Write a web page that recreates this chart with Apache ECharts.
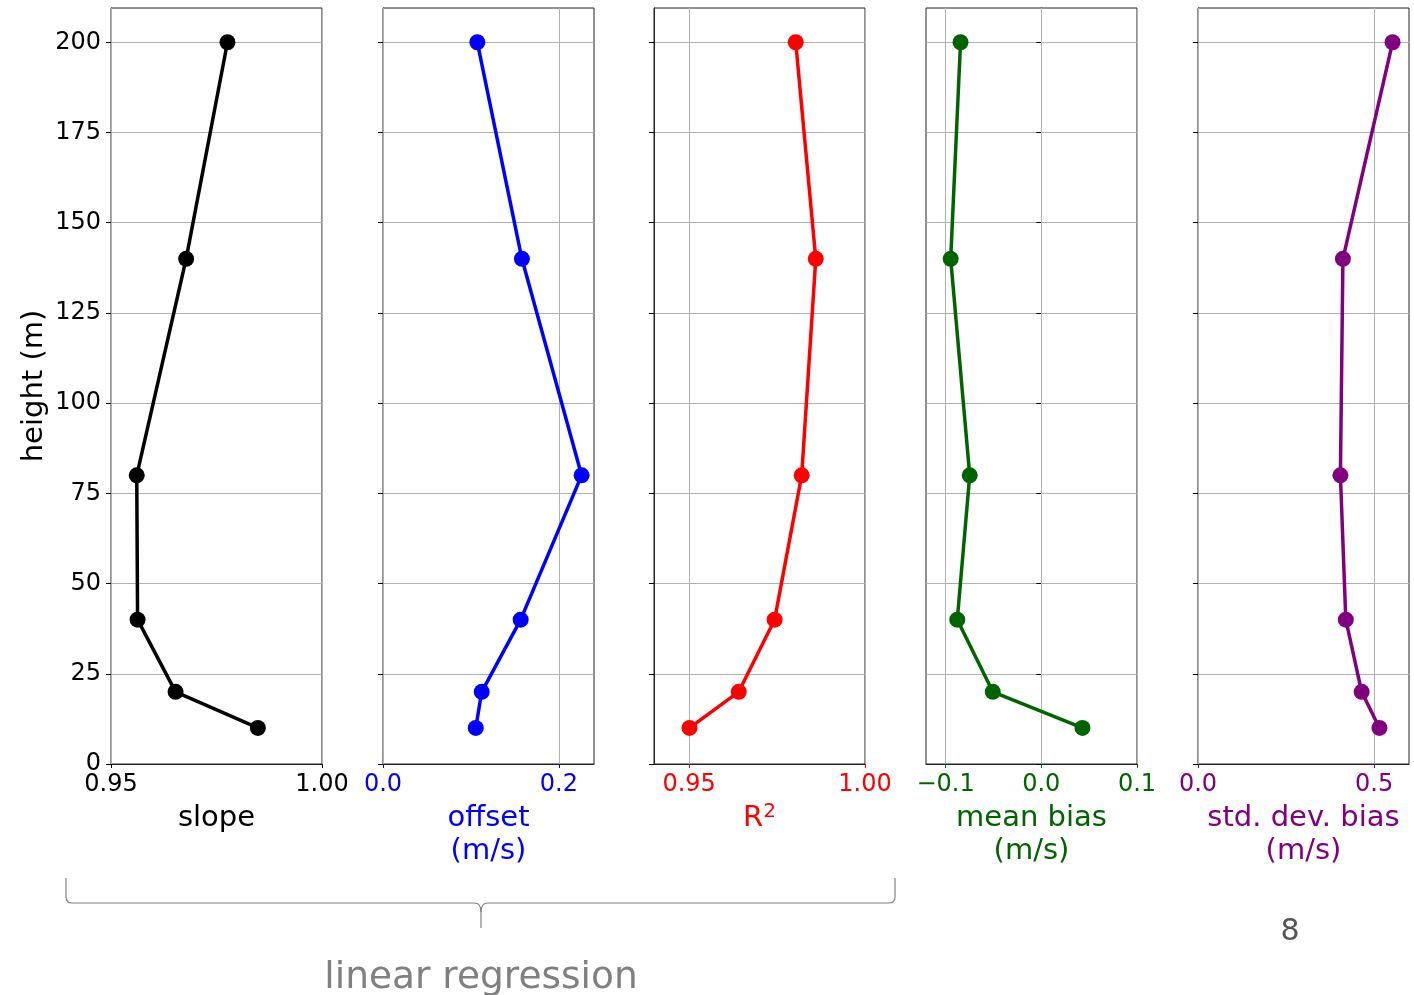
<!DOCTYPE html>
<html>
<head>
<meta charset="utf-8">
<title>Linear regression and bias profiles</title>
<script src="https://cdn.jsdelivr.net/npm/echarts@6/dist/echarts.min.js"></script>
<style>
  html, body { margin: 0; padding: 0; background: #fff; }
  #chart { width: 1414px; height: 995px; }
</style>
</head>
<body>
<div id="chart"></div>
<script>
// Measurement heights (m)
const heights = [10, 20, 40, 80, 140, 200];

// Profile values per height
const slope = [0.9848, 0.9653, 0.9563, 0.9561, 0.9678, 0.9776];
const offset = [0.1055, 0.1123, 0.1566, 0.2259, 0.1580, 0.1073];
const rSquared = [0.9501, 0.9641, 0.9743, 0.9820, 0.9860, 0.9803];
const meanBias = [0.0430, -0.0507, -0.0878, -0.0748, -0.0947, -0.0844];
const stdDevBias = [0.5150, 0.4646, 0.4196, 0.4043, 0.4114, 0.5524];

// Height axis ticks
const heightTicks = [0, 25, 50, 75, 100, 125, 150, 175, 200];

// Per-panel x ticks and their labels
const slopeTicks = [0.95, 1.00];
const slopeTickLabels = ['0.95', '1.00'];
const offsetTicks = [0.0, 0.2];
const offsetTickLabels = ['0.0', '0.2'];
const r2Ticks = [0.95, 1.00];
const r2TickLabels = ['0.95', '1.00'];
const meanBiasTicks = [-0.1, 0.0, 0.1];
const meanBiasTickLabels = ['\u22120.1', '0.0', '0.1'];
const stdTicks = [0.0, 0.5];
const stdTickLabels = ['0.0', '0.5'];

const FONT = 'DejaVu Sans';

const panels = [
  { values: slope, ticks: slopeTicks, labels: slopeTickLabels, min: 0.95, max: 1.00,
    name: 'slope', color: '#000000', left: 111 },
  { values: offset, ticks: offsetTicks, labels: offsetTickLabels, min: 0.0, max: 0.24,
    name: 'offset\n(m/s)', color: '#0000ff', left: 383 },
  { values: rSquared, ticks: r2Ticks, labels: r2TickLabels, min: 0.94, max: 1.00,
    name: '{b|R}{sup|2}', color: '#ff0000', left: 654 },
  { values: meanBias, ticks: meanBiasTicks, labels: meanBiasTickLabels, min: -0.1205, max: 0.1,
    name: 'mean bias\n(m/s)', color: '#006400', left: 926 },
  { values: stdDevBias, ticks: stdTicks, labels: stdTickLabels, min: 0.0, max: 0.599,
    name: 'std. dev. bias\n(m/s)', color: '#800080', left: 1198 }
];

const PANEL_W = 211;
const TOP = 8;
const BOTTOM_Y = 764;
const Y_MAX = 209.5;

const grids = [], xAxes = [], yAxes = [], series = [];

panels.forEach((p, i) => {
  grids.push({
    left: p.left, top: TOP, width: PANEL_W, height: BOTTOM_Y - TOP,
    show: true, borderColor: '#222', borderWidth: 1, backgroundColor: 'transparent'
  });

  xAxes.push({
    type: 'value', gridIndex: i, min: p.min, max: p.max,
    name: p.name, nameLocation: 'middle', nameGap: 37,
    nameTextStyle: {
      color: p.color, fontFamily: FONT, fontSize: 29, lineHeight: 33,
      rich: {
        b: { color: p.color, fontFamily: FONT, fontSize: 29, lineHeight: 33 },
        sup: { color: p.color, fontFamily: FONT, fontSize: 20, lineHeight: 14, verticalAlign: 'top' }
      }
    },
    axisLine: { show: true, onZero: false, lineStyle: { color: '#222', width: 1 } },
    axisTick: { show: true, length: 4, customValues: p.ticks, lineStyle: { color: p.color } },
    axisLabel: {
      show: true, customValues: p.ticks, margin: 9,
      color: p.color, fontFamily: FONT, fontSize: 24,
      formatter: (v) => {
        let best = 0;
        p.ticks.forEach((t, k) => { if (Math.abs(t - v) < Math.abs(p.ticks[best] - v)) best = k; });
        return p.labels[best];
      }
    },
    splitLine: { show: false }
  });

  yAxes.push({
    type: 'value', gridIndex: i, min: 0, max: Y_MAX,
    axisLine: { show: true, lineStyle: { color: '#222', width: 1 } },
    axisTick: { show: true, length: 5, customValues: heightTicks, lineStyle: { color: '#000' } },
    axisLabel: {
      show: i === 0, customValues: heightTicks, margin: 10,
      color: '#000', fontFamily: FONT, fontSize: 24
    },
    splitLine: { show: true, lineStyle: { color: '#b0b0b0', width: 1 } }
  });

  series.push({
    type: 'line', xAxisIndex: i, yAxisIndex: i, z: 3,
    data: p.values.map((v, k) => [v, heights[k]]),
    symbol: 'circle', symbolSize: 16, showSymbol: true,
    lineStyle: { color: p.color, width: 3.5 },
    itemStyle: { color: p.color },
    emphasis: { disabled: true },
    clip: false,
    markLine: {
      silent: true, symbol: 'none', z: 1,
      label: { show: false },
      lineStyle: { color: '#b0b0b0', width: 1, type: 'solid' },
      emphasis: { disabled: true },
      data: p.ticks.map(t => ({ xAxis: t }))
    }
  });
});

// Curly brace under the first three panels
const braceL = 66, braceR = 895, braceTop = 878, braceY = 903, braceTip = 928, braceMid = 481;
const braceStyle = { stroke: '#808080', lineWidth: 1.2, fill: 'none' };
const seg = (x1, y1, x2, y2) => ({ type: 'line', shape: { x1, y1, x2, y2 }, style: braceStyle });
const curve = (x1, y1, cx, cy, x2, y2) => ({
  type: 'bezierCurve', shape: { x1, y1, cpx1: cx, cpy1: cy, x2, y2 }, style: braceStyle
});
const braceParts = [
  seg(braceL, braceTop, braceL, braceY - 6),
  curve(braceL, braceY - 6, braceL, braceY, braceL + 6, braceY),
  seg(braceL + 6, braceY, braceMid - 7, braceY),
  curve(braceMid - 7, braceY, braceMid, braceY, braceMid, braceY + 9),
  seg(braceMid, braceY + 9, braceMid, braceTip),
  curve(braceMid + 7, braceY, braceMid, braceY, braceMid, braceY + 9),
  seg(braceMid + 7, braceY, braceR - 6, braceY),
  curve(braceR - 6, braceY, braceR, braceY, braceR, braceY - 6),
  seg(braceR, braceY - 6, braceR, braceTop)
];

const chart = echarts.init(document.getElementById('chart'), null, { renderer: 'canvas' });
chart.setOption({
  animation: false,
  backgroundColor: '#ffffff',
  textStyle: { fontFamily: FONT },
  grid: grids,
  xAxis: xAxes,
  yAxis: yAxes,
  series: series,
  graphic: [
    {
      type: 'text', x: 34, y: 386, rotation: Math.PI / 2,
      style: { text: 'height (m)', fill: '#000', font: `29px "${FONT}"`, align: 'center', verticalAlign: 'middle' }
    },
    ...braceParts,
    {
      type: 'text', x: braceMid, y: 978,
      style: { text: 'linear regression', fill: '#808080', font: `37.5px "${FONT}"`, align: 'center', verticalAlign: 'middle' }
    },
    {
      type: 'text', x: 1290, y: 932,
      style: { text: '8', fill: '#555555', font: `30px "${FONT}"`, align: 'center', verticalAlign: 'middle' }
    }
  ]
});
</script>
</body>
</html>
